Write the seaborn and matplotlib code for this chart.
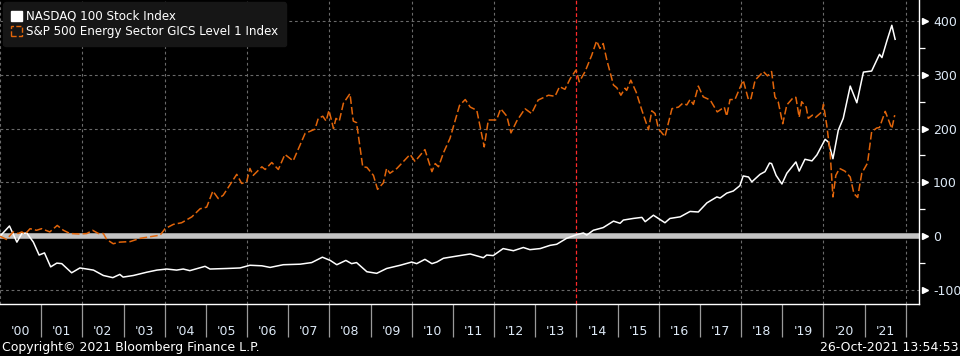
import matplotlib
matplotlib.use("Agg")
import matplotlib.pyplot as plt
import matplotlib.transforms as mtransforms
from matplotlib.patches import Patch
import pandas as pd
import seaborn as sns

# % change since start of 2000 (x in decimal years)
nasdaq_t = [2000.00, 2000.23, 2000.41, 2000.53, 2000.65, 2000.81, 2000.95, 2001.08, 2001.23, 2001.38,
            2001.50, 2001.74, 2001.94, 2002.11, 2002.27, 2002.51, 2002.74, 2002.91, 2002.99, 2003.24,
            2003.56, 2003.81, 2004.05, 2004.29, 2004.45, 2004.61, 2004.98, 2005.10, 2005.51, 2005.83,
            2006.07, 2006.36, 2006.56, 2006.88, 2007.29, 2007.57, 2007.83, 2008.02, 2008.18, 2008.40,
            2008.54, 2008.66, 2008.91, 2009.15, 2009.39, 2009.72, 2010.00, 2010.12, 2010.32, 2010.49,
            2010.61, 2010.77, 2011.09, 2011.42, 2011.74, 2011.82, 2011.98, 2012.22, 2012.47, 2012.71,
            2012.87, 2013.12, 2013.36, 2013.52, 2013.76, 2014.01, 2014.17, 2014.25, 2014.41, 2014.65,
            2014.90, 2015.06, 2015.14, 2015.38, 2015.59, 2015.67, 2015.87, 2016.15, 2016.27, 2016.52,
            2016.76, 2016.96, 2017.17, 2017.41, 2017.49, 2017.65, 2017.81, 2017.97, 2018.05, 2018.18,
            2018.26, 2018.46, 2018.58, 2018.69, 2018.74, 2018.85, 2018.99, 2019.11, 2019.33, 2019.41,
            2019.55, 2019.72, 2019.84, 2020.04, 2020.12, 2020.23, 2020.36, 2020.48, 2020.65, 2020.81,
            2020.97, 2021.17, 2021.36, 2021.42, 2021.54, 2021.66, 2021.74]
nasdaq_v = [0, 19, -11, 5, 6, -11, -35, -31, -57, -50,
            -51, -68, -59, -61, -63, -73, -77, -71, -76, -73,
            -67, -63, -61, -63, -61, -64, -56, -61, -60, -59,
            -54, -55, -58, -53, -52, -49, -39, -45, -53, -45,
            -51, -49, -66, -69, -60, -54, -48, -51, -43, -51,
            -48, -41, -37, -33, -40, -35, -36, -23, -27, -21,
            -25, -23, -17, -15, -4, 3, 6, 2, 11, 16,
            28, 24, 30, 33, 35, 27, 39, 25, 33, 36,
            46, 45, 62, 73, 71, 80, 84, 94, 112, 110,
            101, 115, 120, 136, 135, 113, 97, 117, 138, 121,
            143, 140, 151, 180, 175, 144, 197, 219, 279, 248,
            305, 307, 338, 332, 363, 392, 366]

energy_t = [2000.00, 2000.16, 2000.32, 2000.44, 2000.53, 2000.61, 2000.73, 2000.89, 2001.01, 2001.21,
            2001.39, 2001.54, 2001.70, 2001.94, 2002.11, 2002.25, 2002.39, 2002.51, 2002.59, 2002.75,
            2002.91, 2003.16, 2003.40, 2003.64, 2003.89, 2004.01, 2004.21, 2004.41, 2004.66, 2004.86,
            2005.02, 2005.17, 2005.30, 2005.42, 2005.75, 2005.87, 2005.99, 2006.07, 2006.15, 2006.36,
            2006.44, 2006.60, 2006.76, 2006.92, 2007.12, 2007.41, 2007.65, 2007.73, 2007.84, 2007.92,
            2007.99, 2008.10, 2008.16, 2008.24, 2008.34, 2008.50, 2008.58, 2008.66, 2008.81, 2008.91,
            2009.07, 2009.17, 2009.31, 2009.39, 2009.47, 2009.64, 2009.96, 2010.08, 2010.32, 2010.49,
            2010.57, 2010.65, 2010.77, 2010.93, 2011.16, 2011.30, 2011.42, 2011.58, 2011.76, 2011.86,
            2012.06, 2012.16, 2012.31, 2012.41, 2012.55, 2012.75, 2012.91, 2013.07, 2013.32, 2013.48,
            2013.59, 2013.72, 2013.85, 2013.99, 2014.07, 2014.21, 2014.37, 2014.49, 2014.57, 2014.65,
            2014.74, 2014.90, 2014.98, 2015.08, 2015.18, 2015.22, 2015.32, 2015.45, 2015.59, 2015.75,
            2015.83, 2015.91, 2015.99, 2016.15, 2016.32, 2016.48, 2016.58, 2016.68, 2016.76, 2016.84,
            2016.96, 2017.08, 2017.25, 2017.42, 2017.59, 2017.65, 2017.73, 2017.85, 2018.05, 2018.18,
            2018.24, 2018.34, 2018.54, 2018.64, 2018.74, 2018.82, 2018.90, 2019.01, 2019.11, 2019.27,
            2019.33, 2019.41, 2019.47, 2019.58, 2019.63, 2019.73, 2019.81, 2019.96, 2020.00, 2020.08,
            2020.16, 2020.23, 2020.30, 2020.39, 2020.52, 2020.65, 2020.74, 2020.83, 2020.93, 2021.07,
            2021.17, 2021.29, 2021.36, 2021.50, 2021.66, 2021.73]
energy_v = [0, -6, 8, 5, 8, 4, 14, 11, 14, 8,
            20, 11, 5, 4, 5, 11, 5, 5, -6, -14,
            -11, -10, -4, -1, 2, 14, 22, 25, 36, 51,
            54, 84, 70, 76, 115, 98, 101, 126, 113, 129,
            124, 137, 124, 152, 140, 191, 199, 219, 223, 214,
            234, 200, 219, 214, 247, 265, 214, 211, 129, 128,
            113, 87, 99, 126, 117, 126, 152, 139, 161, 120,
            135, 129, 155, 182, 243, 254, 240, 234, 166, 216,
            216, 237, 223, 192, 214, 237, 228, 253, 262, 260,
            278, 273, 293, 309, 287, 306, 336, 363, 349, 358,
            327, 281, 276, 262, 275, 271, 290, 268, 234, 198,
            233, 228, 200, 185, 237, 240, 247, 244, 254, 245,
            279, 259, 253, 231, 240, 223, 254, 254, 290, 253,
            256, 290, 306, 298, 306, 259, 250, 209, 244, 258,
            258, 221, 250, 240, 219, 225, 221, 231, 245, 206,
            157, 73, 113, 126, 121, 110, 79, 72, 117, 136,
            194, 201, 202, 232, 200, 225]

names = ["NASDAQ 100 Stock Index", "S&P 500 Energy Sector GICS Level 1 Index"]
year_labels = ["'%02d" % (y % 100) for y in range(2000, 2022)]
y_ticks = [-100, 0, 100, 200, 300, 400]

df = pd.concat([
    pd.DataFrame({"t": nasdaq_t, "v": nasdaq_v, "series": names[0]}),
    pd.DataFrame({"t": energy_t, "v": energy_v, "series": names[1]}),
])

ORANGE = "#e2650a"
LBL = "#dce8f5"
plt.rcParams["font.family"] = ["DejaVu Sans"]

fig = plt.figure(figsize=(9.6, 3.56), dpi=100, facecolor="black")
ax = fig.add_axes([0, 52 / 356, 919 / 960, 304 / 356])
ax.set_facecolor("black")

# grid
for yv in [-100, 100, 200, 300, 400]:
    ax.axhline(yv, color="#6a6a6a", lw=0.8, dashes=(2.5, 2.5), zorder=1)
for xv in range(2000, 2023, 2):
    if xv == 2014:
        ax.axvline(xv, color="#ff2a2a", lw=0.9, dashes=(3, 2), zorder=1)
    else:
        ax.axvline(xv, color="#6a6a6a", lw=0.8, dashes=(2.5, 2.5), zorder=1)
ax.axhline(0, color="#c4c4c4", lw=4, zorder=2)

sns.lineplot(data=df, x="t", y="v", hue="series", style="series",
             palette={names[0]: "white", names[1]: ORANGE},
             dashes={names[0]: "", names[1]: (5, 2)},
             estimator=None, legend=False, lw=1.1, ax=ax, zorder=3)

ax.set_xlim(2000, 2022.32)
ax.set_ylim(-126, 439)
ax.set_xlabel("")
ax.set_ylabel("")

# x axis: separators at year boundaries, labels centred in each year
ax.set_xticks(range(2001, 2023))
ax.set_xticklabels([])
ax.tick_params(axis="x", which="major", length=24, width=0.9, color="#9a9a9a", direction="out")
ax.set_xticks([y + 0.5 for y in range(2000, 2022)], minor=True)
ax.set_xticklabels(year_labels, minor=True)
ax.tick_params(axis="x", which="minor", length=0, pad=15, labelsize=9, labelcolor=LBL)

# y axis on the right
ax.yaxis.tick_right()
ax.set_yticks(y_ticks)
ax.set_yticklabels([str(v) for v in y_ticks])
ax.set_yticks(range(-50, 400, 100), minor=True)
ax.tick_params(axis="y", which="major", length=0, pad=10, labelsize=9, labelcolor=LBL)
ax.tick_params(axis="y", which="minor", length=4, width=0.9, color="white", direction="out")
trans = mtransforms.blended_transform_factory(ax.transAxes, ax.transData)
ax.plot([1.006] * len(y_ticks), y_ticks, ">", color="white", ms=5, transform=trans, clip_on=False)

for s in ["left", "top"]:
    ax.spines[s].set_visible(False)
for s in ["right", "bottom"]:
    ax.spines[s].set_color("white")
    ax.spines[s].set_linewidth(1)

handles = [Patch(facecolor="white", edgecolor="white"),
           Patch(facecolor="none", edgecolor=ORANGE, linestyle="--", lw=1)]
leg = ax.legend(handles, names, loc="upper left", bbox_to_anchor=(0.006, 0.985),
                frameon=True, facecolor="#161616", edgecolor="#161616", framealpha=1,
                fontsize=8.6, labelcolor="white", handlelength=0.9, handleheight=0.9,
                handletextpad=0.4, borderpad=0.45, labelspacing=0.2, borderaxespad=0)
leg.get_frame().set_boxstyle("round", pad=0.2)

fig.text(0.002, 0.025, "Copyright\u00a9 2021 Bloomberg Finance L.P.", color="white",
         fontsize=9, va="center", ha="left")
fig.text(0.998, 0.025, "26-Oct-2021 13:54:53", color="white", fontsize=9, va="center", ha="right")

fig.savefig("out.png", dpi=100, facecolor="black")
